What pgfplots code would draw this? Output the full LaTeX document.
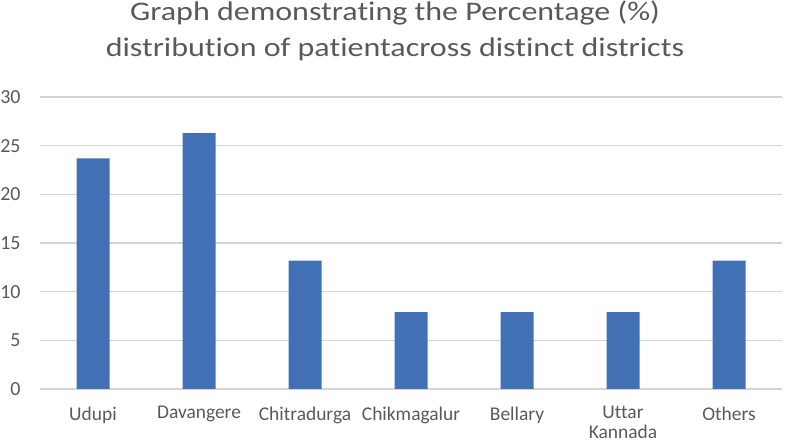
\documentclass[border=0pt]{standalone}
\usepackage{fontspec}
\setmainfont[Ligatures=NoCommon]{Carlito}
\newfontfamily\titlefont[FakeStretch=1.19,Ligatures=NoCommon]{Carlito}
\usepackage{pgfplots}
\pgfplotsset{compat=1.18}
\definecolor{barblue}{RGB}{66,112,180}
\definecolor{txtgray}{RGB}{89,89,89}
\definecolor{gridgray}{RGB}{212,212,212}
\begin{document}
\begin{tikzpicture}[x=1bp,y=1bp]
\useasboundingbox (0,0) rectangle (787,448);
\begin{axis}[
  at={(40bp,59bp)}, anchor=south west,
  scale only axis, width=742bp, height=292bp,
  ymin=0, ymax=30, ytick={0,5,...,30},
  xmin=-0.5, xmax=6.5, xtick={0,...,6},
  xticklabels={Udupi,Davangere,Chitradurga,Chikmagalur,Bellary,{Uttar\\Kannada},Others},
  xticklabel style={align=center, text=txtgray, font=\fontsize{19.5}{20}\selectfont, anchor=north, yshift=-14bp},
  yticklabel style={text=txtgray, font=\fontsize{20}{24}\selectfont, anchor=east, xshift=-16bp},
  /pgf/number format/assume math mode=true,
  ymajorgrids, grid style={gridgray, line width=1.4bp},
  axis line style={draw=none},
  major tick length=0,
  ybar, bar width=33bp,
  clip=false,
]
\addplot[fill=barblue, draw=none] coordinates {(0,23.7) (1,26.3) (2,13.2) (3,7.9) (4,7.9) (5,7.9) (6,13.2)};
\end{axis}
\node[anchor=base, text=txtgray, font=\titlefont\fontsize{27}{36}\selectfont] at (395,427) {Graph demonstrating the Percentage (\%)};
\node[anchor=base, text=txtgray, font=\titlefont\fontsize{27}{36}\selectfont] at (395,391) {distribution of patientacross distinct districts};
\end{tikzpicture}
\end{document}
